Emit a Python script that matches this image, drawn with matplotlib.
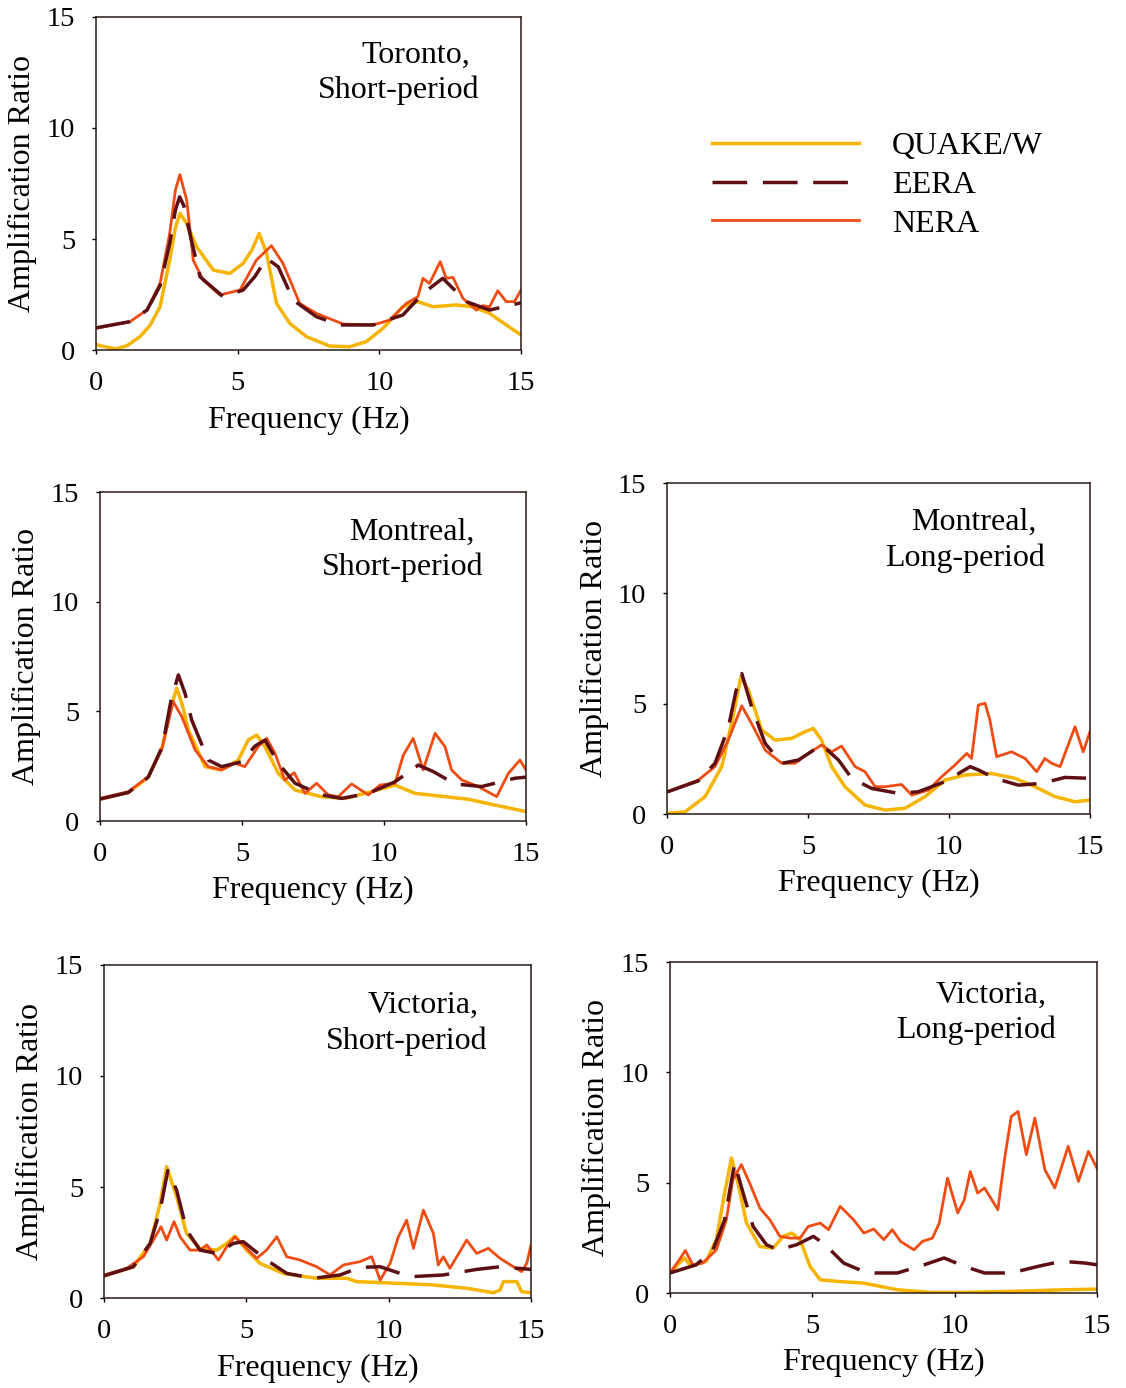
import matplotlib
matplotlib.use("Agg")
import matplotlib.pyplot as plt

plt.rcParams['font.family'] = ['Liberation Serif', 'DejaVu Serif']

# Toronto, short-period
TOR_QUAKE_F = [0, 0.2, 0.7, 1.1, 1.55, 1.9, 2.26, 2.6, 2.8, 2.96, 3.2, 3.55, 4.14, 4.72, 5.19, 5.5,
               5.76, 6.02, 6.37, 6.84, 7.43, 8.25, 8.95, 9.54, 10.13, 10.83, 11.36, 11.9, 12.71, 13.3,
               13.89, 14.48, 15]
TOR_QUAKE_A = [0.25, 0.18, 0.05, 0.2, 0.6, 1.1, 1.95, 4.05, 5.5, 6.15, 5.7, 4.65, 3.6, 3.45, 3.9, 4.5,
               5.25, 4.35, 2.1, 1.2, 0.6, 0.18, 0.15, 0.38, 0.98, 1.95, 2.18, 1.95, 2.03, 1.95,
               1.65, 1.13, 0.68]
TOR_EERA_F = [0, 1.2, 1.8, 2.26, 2.6, 2.8, 2.95, 3.1, 3.31, 3.67, 4.49, 5.19, 5.6, 6.02, 6.43, 6.96,
              7.78, 8.6, 9.78, 10.83, 11.54, 12.24, 13.07, 13.89, 15]
TOR_EERA_A = [1.0, 1.28, 1.8, 2.9, 4.8, 6.3, 6.9, 6.5, 5.25, 3.3, 2.4, 2.7, 3.3, 4.13, 3.75, 2.25,
              1.5, 1.13, 1.13, 1.58, 2.55, 3.23, 2.18, 1.8, 2.13]
TOR_NERA_F = [0, 1.2, 1.79, 2.26, 2.6, 2.8, 2.96, 3.2, 3.43, 3.78, 4.37, 5.08, 5.66, 6.19, 6.6, 7.19,
              7.78, 8.72, 9.78, 10.36, 10.95, 11.36, 11.54, 11.77, 12.15, 12.36, 12.6, 12.95, 13.42,
              13.65, 13.89, 14.18, 14.48, 14.77, 15]
TOR_NERA_A = [0.98, 1.28, 1.8, 3.0, 5.25, 7.2, 7.9, 6.75, 4.05, 3.15, 2.48, 2.7, 4.05, 4.7, 3.9, 2.1,
              1.65, 1.17, 1.13, 1.35, 2.1, 2.4, 3.23, 3.0, 3.98, 3.23, 3.27, 2.33, 1.8,
              2.0, 1.95, 2.67, 2.18, 2.18, 2.7]

# Montreal, short-period
MSP_QUAKE_F = [0, 1.0, 1.7, 2.2, 2.5, 2.7, 2.9, 3.11, 3.7, 4.28, 4.87, 5.22, 5.52, 5.81, 6.28, 6.87,
               7.8, 8.63, 9.57, 10.39, 11.09, 12.15, 12.97, 13.9, 15]
MSP_QUAKE_A = [1.0, 1.3, 2.0, 3.4, 5.2, 6.05, 5.3, 4.15, 2.48, 2.33, 2.78, 3.69, 3.92, 3.39, 2.17, 1.41,
               1.11, 1.03, 1.34, 1.64, 1.26, 1.11, 0.99, 0.73, 0.43]
MSP_EERA_F = [0, 1.0, 1.7, 2.2, 2.5, 2.76, 3.0, 3.23, 3.81, 4.28, 4.99, 5.46, 5.81, 6.28, 6.87, 7.8,
              8.51, 9.45, 10.39, 11.21, 11.74, 12.5, 13.44, 14.61, 15]
MSP_EERA_A = [1.0, 1.3, 2.0, 3.4, 5.5, 6.66, 5.8, 4.6, 2.78, 2.48, 2.7, 3.42, 3.69, 2.63, 1.72, 1.19,
              1.03, 1.26, 1.79, 2.55, 2.25, 1.69, 1.57, 1.95, 2.0]
MSP_NERA_F = [0, 1.0, 1.7, 2.17, 2.58, 2.88, 3.35, 3.81, 4.28, 4.75, 5.1, 5.57, 5.87, 6.16, 6.51, 6.84,
              7.22, 7.63, 8.04, 8.39, 8.86, 9.45, 9.86, 10.39, 10.68, 11.03, 11.38, 11.8, 12.15,
              12.38, 12.74, 13.32, 13.97, 14.38, 14.79, 15]
MSP_NERA_A = [1.03, 1.34, 2.02, 3.24, 5.44, 4.76, 3.24, 2.48, 2.33, 2.63, 2.48, 3.39, 3.77, 3.09, 1.87,
              2.2, 1.26, 1.72, 1.19, 1.11, 1.69, 1.19, 1.64, 1.72, 3.0, 3.77, 2.33, 4.0, 3.39,
              2.33, 1.87, 1.57, 1.11, 2.17, 2.78, 2.33]

# Montreal, long-period
MLP_QUAKE_F = [0, 0.64, 1.35, 1.94, 2.29, 2.62, 2.88, 3.36, 3.83, 4.42, 4.89, 5.19, 5.48, 5.84, 6.31,
               7.02, 7.73, 8.44, 9.15, 9.86, 10.57, 11.51, 12.34, 13.05, 13.76, 14.47, 15]
MLP_QUAKE_A = [0.03, 0.1, 0.79, 2.15, 4.1, 6.22, 5.62, 3.81, 3.35, 3.43, 3.73, 3.88, 3.35, 2.15, 1.24,
               0.41, 0.18, 0.26, 0.79, 1.54, 1.77, 1.84, 1.62, 1.24, 0.79, 0.56, 0.63]
MLP_EERA_F = [0, 1.1, 1.7, 2.17, 2.45, 2.65, 3.0, 3.48, 4.07, 4.66, 5.48, 6.08, 6.55, 7.26, 8.2, 8.91,
              9.86, 10.75, 11.04, 11.63, 12.46, 13.29, 14.11, 15]
MLP_EERA_A = [1.0, 1.5, 2.3, 3.9, 5.6, 6.37, 4.86, 3.2, 2.3, 2.45, 3.13, 2.45, 1.62, 1.16, 0.94, 1.01,
              1.47, 2.15, 2.0, 1.62, 1.31, 1.39, 1.66, 1.62]
MLP_NERA_F = [0, 1.11, 1.7, 2.17, 2.65, 3.0, 3.48, 4.07, 4.54, 5.01, 5.48, 5.84, 6.19, 6.67, 7.02, 7.38,
              7.73, 8.32, 8.68, 9.27, 9.74, 10.21, 10.63, 10.8, 11.04, 11.28, 11.45, 11.69, 12.22,
              12.7, 13.11, 13.4, 13.64, 13.94, 14.47, 14.76, 15]
MLP_NERA_A = [1.01, 1.54, 2.15, 3.35, 4.9, 4.1, 2.9, 2.3, 2.3, 2.75, 3.13, 2.82, 3.08, 2.15, 1.92, 1.24,
              1.24, 1.34, 0.86, 1.09, 1.69, 2.22, 2.75, 2.52, 4.94, 5.02, 4.26, 2.6, 2.82,
              2.52, 1.92, 2.52, 2.3, 2.15, 3.96, 2.82, 3.73]

# Victoria, short-period
VSP_QUAKE_F = [0, 1.03, 1.62, 1.97, 2.2, 2.55, 2.9, 3.37, 3.96, 4.31, 4.6, 5.01, 5.48, 6.3, 7.47, 8.52,
               8.88, 10.4, 11.57, 12.74, 13.68, 13.91, 14.03, 14.5, 14.67, 15]
VSP_QUAKE_A = [1.0, 1.4, 2.46, 4.26, 5.92, 4.56, 2.91, 2.24, 2.16, 2.46, 2.79, 2.16, 1.56, 1.11, 0.89,
               0.89, 0.74, 0.66, 0.59, 0.44, 0.24, 0.36, 0.74, 0.74, 0.29, 0.24]
VSP_EERA_F = [0, 1.03, 1.62, 1.97, 2.24, 2.55, 2.9, 3.37, 3.96, 4.54, 4.89, 5.71, 6.42, 7.35, 8.29,
              8.99, 9.7, 10.75, 11.92, 13.09, 13.91, 15]
VSP_EERA_A = [1.0, 1.41, 2.46, 3.96, 5.74, 4.86, 3.06, 2.16, 2.01, 2.46, 2.54, 1.71, 1.11, 0.89, 1.04,
              1.38, 1.41, 0.96, 1.04, 1.29, 1.41, 1.29]
VSP_NERA_F = [0, 0.8, 1.38, 1.73, 2.0, 2.2, 2.46, 2.67, 3.02, 3.37, 3.61, 4.02, 4.31, 4.6, 4.89, 5.36,
              5.71, 6.07, 6.42, 6.89, 7.47, 7.94, 8.41, 8.99, 9.4, 9.7, 10.05, 10.34, 10.63, 10.87,
              11.22, 11.57, 11.74, 11.92, 12.15, 12.74, 13.09, 13.5, 13.91, 14.38, 14.67, 14.85, 15]
VSP_NERA_A = [1.04, 1.34, 1.86, 2.61, 3.21, 2.61, 3.44, 2.76, 2.16, 2.16, 2.39, 1.71, 2.31, 2.76, 2.39,
              1.79, 2.16, 2.76, 1.86, 1.71, 1.41, 1.04, 1.49, 1.64, 1.86, 0.81, 1.56, 2.76, 3.51,
              2.24, 3.96, 2.91, 1.49, 1.86, 1.34, 2.61, 2.01, 2.24, 1.79, 1.41, 1.19, 1.56, 2.39]

# Victoria, long-period
VLP_QUAKE_F = [0, 0.33, 0.51, 0.74, 1.27, 1.63, 1.92, 2.16, 2.39, 2.69, 3.16, 3.63, 3.98, 4.28, 4.57,
               4.92, 5.28, 5.87, 6.81, 7.99, 9.16, 10.34, 12.11, 13.88, 15]
VLP_QUAKE_A = [0.91, 1.36, 1.59, 1.21, 1.44, 2.42, 4.53, 6.12, 4.98, 3.17, 2.11, 2.04, 2.57, 2.72, 2.42,
               1.21, 0.6, 0.53, 0.45, 0.15, 0.03, 0.03, 0.08, 0.15, 0.18]
VLP_EERA_F = [0, 0.92, 1.51, 1.92, 2.27, 2.57, 2.92, 3.39, 3.8, 4.45, 5.04, 5.45, 6.1, 6.93, 7.99, 8.93,
              9.63, 10.34, 11.05, 11.99, 12.93, 13.76, 14.58, 15]
VLP_EERA_A = [0.91, 1.28, 1.96, 3.32, 5.89, 4.53, 3.02, 2.19, 1.96, 2.19, 2.57, 2.19, 1.36, 0.91, 0.91,
              1.28, 1.59, 1.21, 0.91, 0.91, 1.21, 1.44, 1.36, 1.28]
VLP_NERA_F = [0, 0.33, 0.54, 0.8, 1.15, 1.63, 1.98, 2.21, 2.51, 2.8, 3.16, 3.51, 3.86, 4.22, 4.57, 4.86,
              5.28, 5.57, 5.98, 6.45, 6.81, 7.16, 7.51, 7.81, 8.1, 8.57, 8.87, 9.22, 9.46, 9.75,
              10.11, 10.34, 10.55, 10.81, 11.05, 11.52, 11.75, 11.99, 12.23, 12.52, 12.82, 13.17,
              13.52, 13.99, 14.35, 14.7, 15]
VLP_NERA_A = [0.91, 1.51, 1.93, 1.28, 1.36, 1.96, 3.32, 5.14, 5.82, 4.98, 3.85, 3.32, 2.57, 2.49, 2.49,
              3.02, 3.17, 2.87, 3.93, 3.32, 2.72, 2.9, 2.42, 2.87, 2.34, 1.96, 2.34, 2.49, 3.17, 5.21,
              3.63, 4.23, 5.51, 4.53, 4.76, 3.78, 6.04, 8.0, 8.23, 6.27, 7.93, 5.59,
              4.76, 6.65, 5.06, 6.42, 5.66]

TICKS = [0, 5, 10, 15]
C_QUAKE = '#f4b400'
C_EERA = '#5e0f14'
C_NERA = '#ef4c14'

# (axes rect, title lines with their positions, data)
panels = [
    ([0.0853, 0.7478, 0.3774, 0.2400], [('Toronto,', 0.753, 0.886), ('Short-period', 0.713, 0.781)],
     (TOR_QUAKE_F, TOR_QUAKE_A, TOR_EERA_F, TOR_EERA_A, TOR_NERA_F, TOR_NERA_A)),
    ([0.0888, 0.4085, 0.3783, 0.2370], [('Montreal,', 0.732, 0.878), ('Short-period', 0.71, 0.772)],
     (MSP_QUAKE_F, MSP_QUAKE_A, MSP_EERA_F, MSP_EERA_A, MSP_NERA_F, MSP_NERA_A)),
    ([0.5924, 0.4135, 0.3756, 0.2385], [('Montreal,', 0.726, 0.882), ('Long-period', 0.704, 0.773)],
     (MLP_QUAKE_F, MLP_QUAKE_A, MLP_EERA_F, MLP_EERA_A, MLP_NERA_F, MLP_NERA_A)),
    ([0.0924, 0.0648, 0.3792, 0.2400], [('Victoria,', 0.747, 0.88), ('Short-period', 0.709, 0.772)],
     (VSP_QUAKE_F, VSP_QUAKE_A, VSP_EERA_F, VSP_EERA_A, VSP_NERA_F, VSP_NERA_A)),
    ([0.5950, 0.0684, 0.3792, 0.2385], [('Victoria,', 0.752, 0.90), ('Long-period', 0.717, 0.795)],
     (VLP_QUAKE_F, VLP_QUAKE_A, VLP_EERA_F, VLP_EERA_A, VLP_NERA_F, VLP_NERA_A)),
]

fig = plt.figure(figsize=(11.26, 13.88), dpi=100)

handles = None
for rect, titles, d in panels:
    ax = fig.add_axes(rect)
    qf, qa, ef, ea, nf, na = d
    l1, = ax.plot(qf, qa, color=C_QUAKE, lw=2.5, solid_joinstyle='round', label='QUAKE/W')
    l3, = ax.plot(nf, na, color=C_NERA, lw=2.0, solid_joinstyle='round', label='NERA')
    l2, = ax.plot(ef, ea, color=C_EERA, lw=2.5, dashes=(10, 4.5), dash_joinstyle='round',
                  label='EERA')
    if handles is None:
        handles = [l1, l2, l3]
    ax.set_xlim(0, 15)
    ax.set_ylim(0, 15)
    ax.set_xticks(TICKS)
    ax.set_yticks(TICKS)
    ax.tick_params(direction='out', length=3, width=1, labelsize=20.5, pad=12)
    for s in ax.spines.values():
        s.set_linewidth(1.1)
        s.set_color('#2a1a16')
    ax.set_xlabel('Frequency (Hz)', fontsize=23)
    ax.set_ylabel('Amplification Ratio', fontsize=23)
    ax.xaxis.set_label_coords(0.5, -0.21)
    ax.xaxis.label.set_va('center')
    ax.yaxis.set_label_coords(-0.172, 0.5)
    ax.yaxis.label.set_va('center')
    for txt, tx, ty in titles:
        ax.text(tx, ty, txt, transform=ax.transAxes, fontsize=23, ha='center', va='center')

fig.legend(handles=handles, labels=['QUAKE/W', 'EERA', 'NERA'], loc='center left',
           bbox_to_anchor=(0.632, 0.8667), frameon=False, fontsize=23, handlelength=4.6,
           handletextpad=1.05, labelspacing=0.3, borderpad=0, borderaxespad=0)

fig.savefig('out.png', dpi=100, facecolor='white')
